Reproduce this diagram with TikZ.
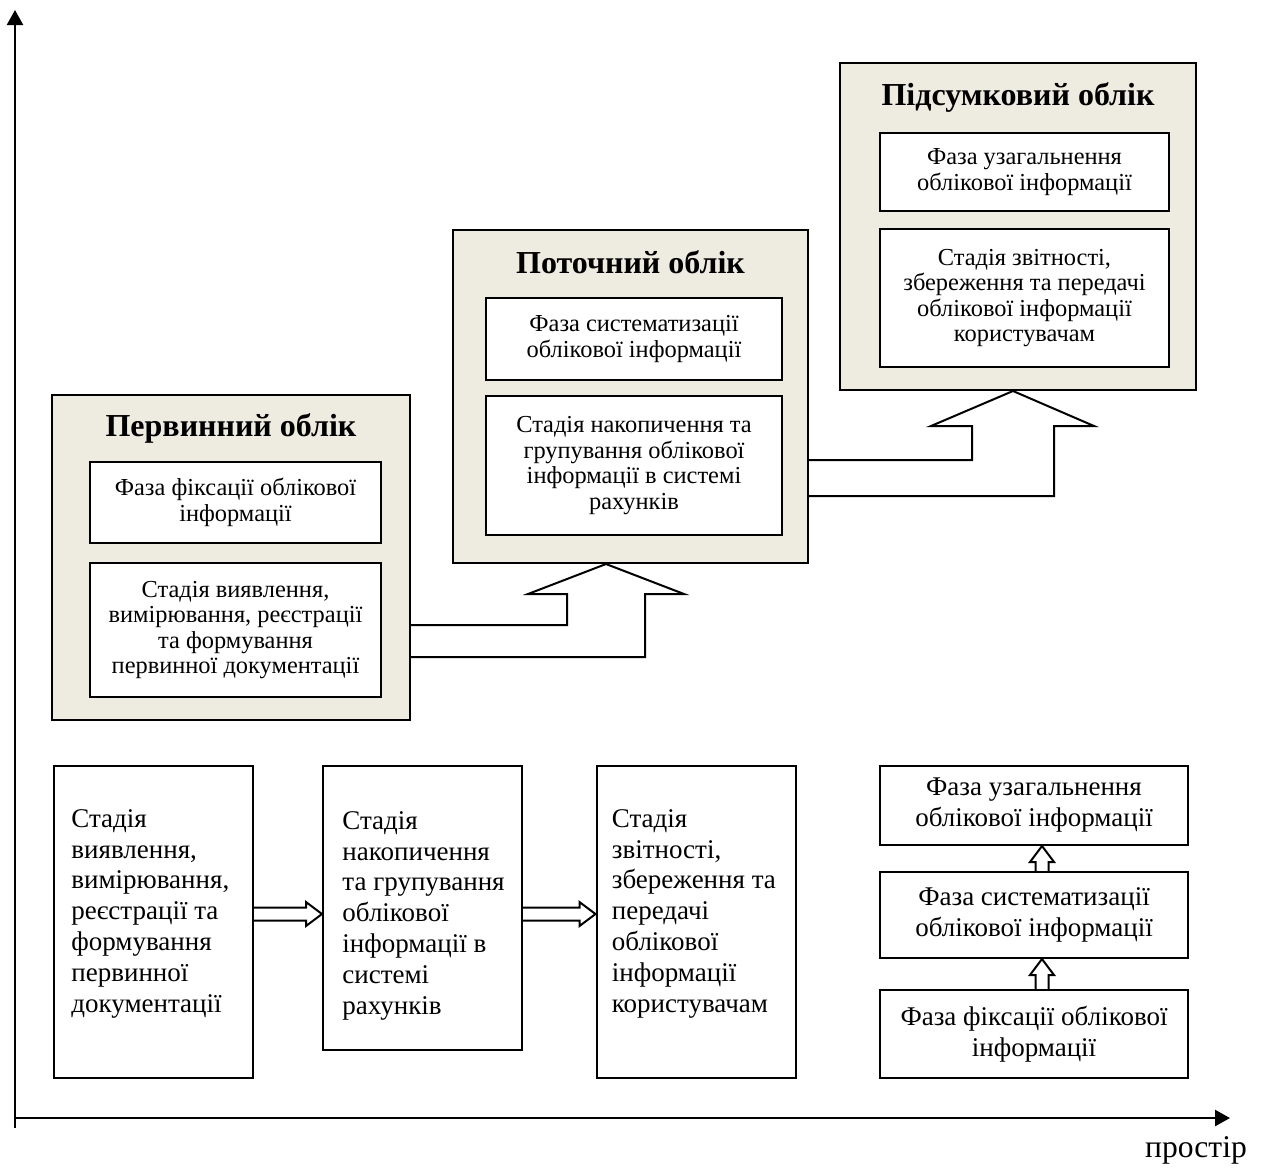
\documentclass[tikz,border=0pt]{standalone}
\usepackage{fontspec}
\setmainfont{Liberation Serif}
\usetikzlibrary{arrows.meta,calc}
\definecolor{tanbg}{HTML}{EEECE1}

\begin{document}
\begin{tikzpicture}[x=0.5pt,y=-0.5pt,
    outer/.style={draw, fill=tanbg, line width=1pt, inner sep=0pt},
    heading/.style={font=\fontsize{16}{19}\selectfont\bfseries},
    inner/.style={draw, fill=white, line width=1pt, align=center, inner sep=0pt,
      font=\fontsize{12.2}{12.8}\selectfont},
    stagebox/.style={draw, line width=1pt, inner sep=0pt, minimum width=99.5pt},
    stagetext/.style={align=left, inner sep=0pt, anchor=north west,
      font=\fontsize{13.5}{15.4}\selectfont},
    phasebox/.style={draw, line width=1pt, align=center, inner sep=0pt, minimum width=154pt,
      font=\fontsize{13.5}{15.5}\selectfont},
    hollow/.style={to path={
      ($(\tikztotarget)!8pt!(\tikztostart)$) coordinate (hb)
      ($(\tikztostart)!3.25pt!90:(\tikztotarget)$) -- ($(hb)!3.25pt!90:(\tikztotarget)$)
      -- ($(hb)!6pt!90:(\tikztotarget)$) -- (\tikztotarget)
      -- ($(hb)!6pt!-90:(\tikztotarget)$) -- ($(hb)!3.25pt!-90:(\tikztotarget)$)
      -- ($(\tikztostart)!3.25pt!-90:(\tikztotarget)$)}},
    axis/.style={line width=1.2pt, -{Triangle[width=8pt,length=7.5pt]}}]
    \useasboundingbox (0,0) rectangle (1262,1169);

    \coordinate (O) at (15,1118);
    \coordinate (Ybot) at (15,1128);
    \coordinate (Ytop) at (15,10);
    \coordinate (Xend) at (1230,1118);
    \draw[axis] (Ybot) -- (Ytop);
    \draw[axis] (O) -- (Xend);
    \node [font=\fontsize{15.8}{18}\selectfont] (space) at (1196,1150) {простір};

    % first level
    \node [outer, minimum width=179pt, minimum height=162.5pt] (perv) at (231,557.5) {};
    \node [heading] (pervT) at (231,428) {Первинний облік};
    \node [inner, minimum width=145.5pt, minimum height=40.5pt] (perv1) at (235.5,502.5)
      {Фаза фіксації облікової\\інформації};
    \node [inner, minimum width=145.5pt, minimum height=67pt] (perv2) at (235.5,630)
      {Стадія виявлення,\\вимірювання, реєстрації\\та формування\\первинної документації};

    \node [outer, minimum width=177.5pt, minimum height=166.5pt] (pot) at (630.5,396.5) {};
    \node [heading] (potT) at (630.5,262) {Поточний облік};
    \node [inner, minimum width=148pt, minimum height=41pt] (pot1) at (634,339)
      {Фаза систематизації\\облікової інформації};
    \node [inner, minimum width=148pt, minimum height=69.5pt] (pot2) at (634,465.5)
      {Стадія накопичення та\\групування облікової\\інформації в системі\\рахунків};

    \node [outer, minimum width=178pt, minimum height=163.5pt] (pids) at (1018,226.5) {};
    \node [heading] (pidsT) at (1018,97) {Підсумковий облік};
    \node [inner, minimum width=144.5pt, minimum height=39pt] (pids1) at (1024.5,172)
      {Фаза узагальнення\\облікової інформації};
    \node [inner, minimum width=144.5pt, minimum height=69pt] (pids2) at (1024.5,298)
      {Стадія звітності,\\збереження та передачі\\облікової інформації\\користувачам};

    \coordinate (tip1) at (pot.south -| 606,0);
    \draw[line width=1pt] (perv.east |- 0,625) -- (567,625) -- ($(tip1)+(-39,30)$)
      -- ($(tip1)+(-78,30)$) -- (tip1) -- ($(tip1)+(78,30)$) -- ($(tip1)+(39,30)$)
      -- (645,657) -- (perv.east |- 0,657);
    \coordinate (tip2) at (pids.south -| 1013,0);
    \draw[line width=1pt] (pot.east |- 0,460) -- (972,460) -- ($(tip2)+(-41,35)$)
      -- ($(tip2)+(-82,35)$) -- (tip2) -- ($(tip2)+(81,35)$) -- ($(tip2)+(41,35)$)
      -- (1054,496) -- (pot.east |- 0,496);

    % stages
    \node [stagebox, minimum height=156pt] (st1) at (153.5,922) {};
    \node [stagebox, minimum height=142pt] (st2) at (422.5,908) {};
    \node [stagebox, minimum height=156pt] (st3) at (696,922) {};
    \node [stagetext] (st1T) at ([shift={(18,44)}]st1.north west)
      {Стадія\\виявлення,\\вимірювання,\\реєстрації та\\формування\\первинної\\документації};
    \node [stagetext] (st2T) at ([shift={(20,46)}]st2.north west)
      {Стадія\\накопичення\\та групування\\облікової\\інформації в\\системі\\рахунків};
    \node [stagetext] (st3T) at ([shift={(16,44)}]st3.north west)
      {Стадія\\звітності,\\збереження та\\передачі\\облікової\\інформації\\користувачам};
    \draw[line width=1pt] (st1.east |- 0,914) to[hollow] (st2.west |- 0,914);
    \draw[line width=1pt] (st2.east |- 0,914) to[hollow] (st3.west |- 0,914);

    % phases
    \node [phasebox, minimum height=39.5pt] (ph3) at (1034,805.5)
      {Фаза узагальнення\\облікової інформації};
    \node [phasebox, minimum height=43pt] (ph2) at (1034,915)
      {Фаза систематизації\\облікової інформації};
    \node [phasebox, minimum height=44pt] (ph1) at (1034,1034)
      {Фаза фіксації облікової\\інформації};
    \draw[line width=1pt] (ph1.north -| 1042,0) to[hollow] (ph2.south -| 1042,0);
    \draw[line width=1pt] (ph2.north -| 1042,0) to[hollow] (ph3.south -| 1042,0);
\end{tikzpicture}
\end{document}
